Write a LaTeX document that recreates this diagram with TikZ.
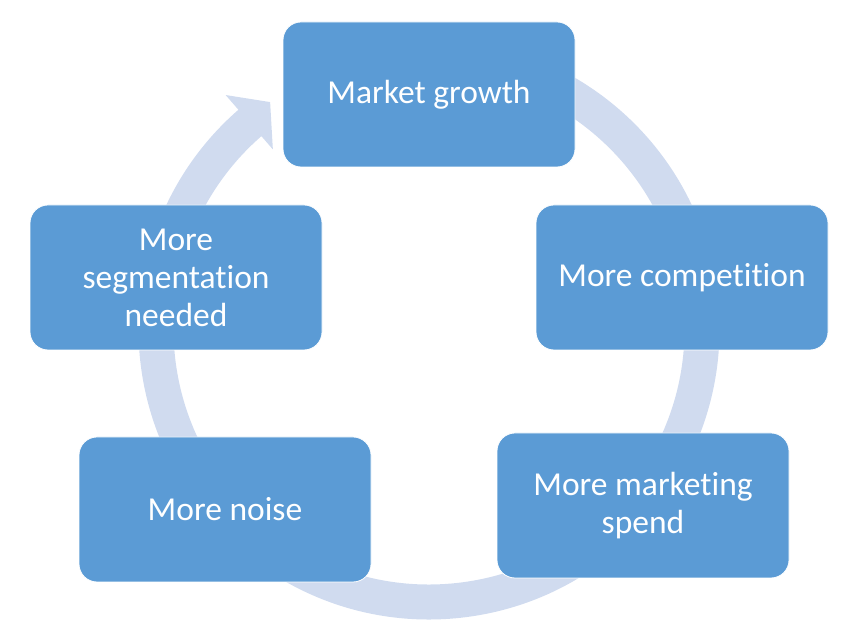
\documentclass[tikz,border=0pt]{standalone}
\usepackage{fontspec}
\setmainfont{Carlito}[Ligatures={NoCommon,NoRare,NoDiscretionary,NoContextual}]
\definecolor{boxblue}{RGB}{91,155,213}
\definecolor{ringblue}{RGB}{208,219,239}
\tikzset{
  stagebox/.style={rectangle, rounded corners=18pt, fill=boxblue, draw=white, line width=0.8pt,
    minimum width=292pt, minimum height=145pt, text=white, align=center, inner sep=4pt,
    font=\fontsize{33.5}{38}\selectfont},
  ringstyle/.style={draw=ringblue, line width=35pt},
  headstyle/.style={fill=ringblue}
}
\begin{document}
\begin{tikzpicture}[x=1pt,y=1pt]
\useasboundingbox (0,0) rectangle (866,644);
\coordinate (C) at (429,315);
% cycle ring
\draw[ringstyle] ([shift={(95:273pt)}]C) arc[start angle=95, end angle=-229.5, radius=273pt];
\coordinate (hb1) at ([shift={(131:238pt)}]C);
\coordinate (ht) at ([shift={(125:277pt)}]C);
\coordinate (hb2) at ([shift={(131:310pt)}]C);
\fill[headstyle] (hb1) -- (ht) -- (hb2) -- cycle;
% stages
\node[stagebox] (mg) at (429,549.5) {Market growth};
\node[stagebox] (comp) at (682,366.5) {More competition};
\node[stagebox] (spend) at (643,138.5) {More marketing\\spend};
\node[stagebox] (noise) at (225,134.5) {More noise};
\node[stagebox] (seg) at (176,366.5) {More\\segmentation\\needed};
\end{tikzpicture}
\end{document}
